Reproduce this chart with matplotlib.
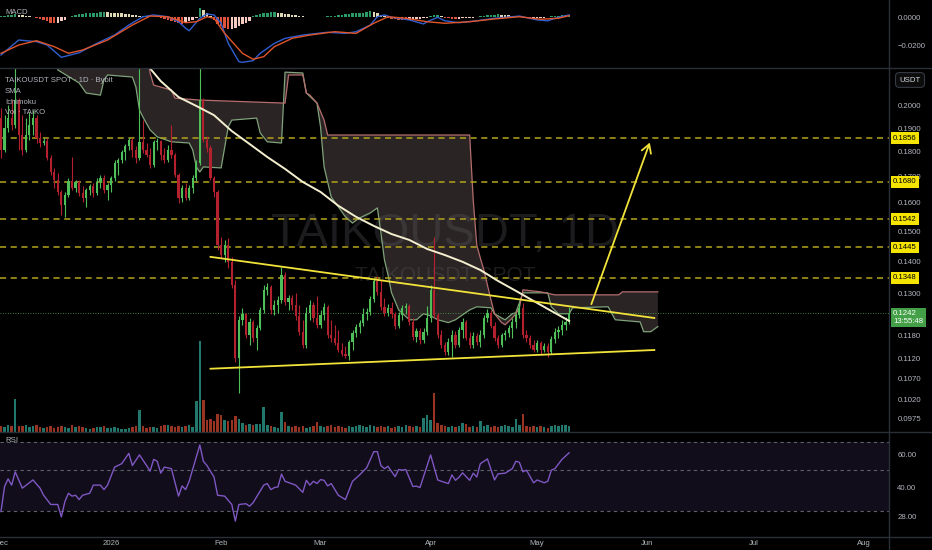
import numpy as np
import pandas as pd
import matplotlib
matplotlib.use('Agg')
import matplotlib.pyplot as plt
import matplotlib.dates as mdates
from matplotlib.ticker import FixedLocator, FuncFormatter, NullLocator
from matplotlib.lines import Line2D

plt.rcParams['font.family'] = ['Liberation Sans', 'DejaVu Sans']

# DATA - TAIKOUSDT daily candles from 2025-12-01 (day offsets)
start = pd.Timestamp('2025-12-01')

opens = [0.1944, 0.1807, 0.1901, 0.1944, 0.1913, 0.2026, 0.1870, 0.1807, 0.1870, 0.1913,
         0.1944, 0.1857, 0.1836, 0.1845, 0.1774, 0.1718, 0.1687, 0.1641, 0.1593, 0.1630,
         0.1683, 0.1656, 0.1679, 0.1637, 0.1618, 0.1648, 0.1664, 0.1637, 0.1679, 0.1695,
         0.1648, 0.1668, 0.1695, 0.1754, 0.1766, 0.1799, 0.1824, 0.1849, 0.1807, 0.1774,
         0.1841, 0.1807, 0.1786, 0.1746, 0.1841, 0.1845, 0.1786, 0.1766, 0.1807, 0.1786,
         0.1706, 0.1618, 0.1656, 0.1618, 0.1656, 0.1695, 0.1754, 0.2026, 0.1849, 0.1815,
         0.1695, 0.1641, 0.1453, 0.1420, 0.1453, 0.1398, 0.1326, 0.1121, 0.1224, 0.1241,
         0.1182, 0.1218, 0.1174, 0.1202, 0.1252, 0.1311, 0.1320, 0.1252, 0.1266, 0.1281,
         0.1357, 0.1275, 0.1287, 0.1266, 0.1235, 0.1191, 0.1155, 0.1244, 0.1266, 0.1229,
         0.1210, 0.1238, 0.1261, 0.1182, 0.1174, 0.1160, 0.1142, 0.1132, 0.1126, 0.1163,
         0.1188, 0.1205, 0.1216, 0.1241, 0.1247, 0.1284, 0.1338, 0.1305, 0.1261, 0.1244,
         0.1258, 0.1241, 0.1207, 0.1238, 0.1258, 0.1264, 0.1218, 0.1177, 0.1193, 0.1169,
         0.1191, 0.1229, 0.1311, 0.1238, 0.1182, 0.1155, 0.1137, 0.1163, 0.1182, 0.1155,
         0.1196, 0.1218, 0.1174, 0.1155, 0.1180, 0.1163, 0.1182, 0.1229, 0.1244, 0.1207,
         0.1174, 0.1155, 0.1182, 0.1188, 0.1202, 0.1218, 0.1238, 0.1258, 0.1182, 0.1174,
         0.1155, 0.1142, 0.1160, 0.1142, 0.1152, 0.1137, 0.1171, 0.1191, 0.1196, 0.1210,
         0.1218]
highs = [0.1989, 0.1957, 0.2003, 0.2026, 0.2221, 0.2035, 0.1957, 0.1944, 0.1971, 0.1980,
         0.1957, 0.1883, 0.1857, 0.1857, 0.1786, 0.1734, 0.1714, 0.1648, 0.1641, 0.1695,
         0.1778, 0.1687, 0.1687, 0.1664, 0.1656, 0.1672, 0.1675, 0.1695, 0.1706, 0.1706,
         0.1675, 0.1702, 0.1766, 0.1774, 0.1807, 0.1832, 0.1857, 0.1857, 0.1824, 0.2247,
         0.1935, 0.1836, 0.1815, 0.1849, 0.1857, 0.1849, 0.1815, 0.1828, 0.1913, 0.1795,
         0.1714, 0.1668, 0.1675, 0.1668, 0.1706, 0.1766, 0.2300, 0.2035, 0.1866, 0.1828,
         0.1702, 0.1648, 0.1480, 0.1470, 0.1477, 0.1414, 0.1341, 0.1235, 0.1258, 0.1244,
         0.1229, 0.1224, 0.1210, 0.1261, 0.1326, 0.1332, 0.1326, 0.1281, 0.1293, 0.1382,
         0.1366, 0.1296, 0.1296, 0.1302, 0.1266, 0.1224, 0.1261, 0.1281, 0.1275, 0.1293,
         0.1252, 0.1272, 0.1266, 0.1224, 0.1210, 0.1196, 0.1160, 0.1152, 0.1169, 0.1196,
         0.1213, 0.1224, 0.1258, 0.1258, 0.1293, 0.1347, 0.1354, 0.1341, 0.1287, 0.1269,
         0.1275, 0.1247, 0.1247, 0.1266, 0.1272, 0.1269, 0.1229, 0.1202, 0.1202, 0.1202,
         0.1264, 0.1326, 0.1480, 0.1244, 0.1196, 0.1163, 0.1174, 0.1196, 0.1193, 0.1205,
         0.1229, 0.1224, 0.1191, 0.1191, 0.1188, 0.1196, 0.1238, 0.1255, 0.1252, 0.1218,
         0.1182, 0.1188, 0.1196, 0.1210, 0.1229, 0.1244, 0.1272, 0.1272, 0.1196, 0.1182,
         0.1169, 0.1169, 0.1166, 0.1160, 0.1160, 0.1180, 0.1202, 0.1207, 0.1224, 0.1232,
         0.1261]
lows = [0.1774, 0.1799, 0.1883, 0.1892, 0.1901, 0.1807, 0.1786, 0.1799, 0.1849, 0.1870,
        0.1836, 0.1820, 0.1828, 0.1766, 0.1706, 0.1656, 0.1630, 0.1557, 0.1550, 0.1622,
        0.1648, 0.1641, 0.1626, 0.1604, 0.1586, 0.1630, 0.1622, 0.1630, 0.1656, 0.1637,
        0.1611, 0.1641, 0.1683, 0.1706, 0.1754, 0.1766, 0.1807, 0.1778, 0.1754, 0.1766,
        0.1795, 0.1778, 0.1734, 0.1738, 0.1807, 0.1766, 0.1754, 0.1758, 0.1774, 0.1698,
        0.1600, 0.1604, 0.1611, 0.1611, 0.1637, 0.1683, 0.1746, 0.1841, 0.1799, 0.1687,
        0.1622, 0.1437, 0.1410, 0.1398, 0.1378, 0.1317, 0.1111, 0.1035, 0.1210, 0.1174,
        0.1155, 0.1163, 0.1142, 0.1196, 0.1244, 0.1296, 0.1241, 0.1238, 0.1244, 0.1272,
        0.1266, 0.1252, 0.1252, 0.1224, 0.1182, 0.1147, 0.1147, 0.1224, 0.1218, 0.1202,
        0.1202, 0.1224, 0.1174, 0.1163, 0.1155, 0.1137, 0.1126, 0.1121, 0.1116, 0.1142,
        0.1177, 0.1188, 0.1207, 0.1224, 0.1238, 0.1275, 0.1296, 0.1252, 0.1235, 0.1235,
        0.1229, 0.1199, 0.1202, 0.1224, 0.1241, 0.1210, 0.1169, 0.1163, 0.1158, 0.1160,
        0.1182, 0.1218, 0.1229, 0.1174, 0.1147, 0.1129, 0.1129, 0.1124, 0.1147, 0.1150,
        0.1174, 0.1169, 0.1147, 0.1147, 0.1155, 0.1150, 0.1174, 0.1218, 0.1202, 0.1166,
        0.1147, 0.1150, 0.1169, 0.1177, 0.1174, 0.1202, 0.1229, 0.1174, 0.1163, 0.1147,
        0.1137, 0.1137, 0.1129, 0.1137, 0.1124, 0.1132, 0.1160, 0.1174, 0.1182, 0.1196,
        0.1213]
closes = [0.1807, 0.1901, 0.1944, 0.1913, 0.2026, 0.1870, 0.1807, 0.1870, 0.1913, 0.1944,
          0.1857, 0.1836, 0.1845, 0.1774, 0.1718, 0.1687, 0.1641, 0.1593, 0.1630, 0.1683,
          0.1656, 0.1679, 0.1637, 0.1618, 0.1648, 0.1664, 0.1637, 0.1679, 0.1695, 0.1648,
          0.1668, 0.1695, 0.1754, 0.1766, 0.1799, 0.1824, 0.1849, 0.1807, 0.1774, 0.1841,
          0.1807, 0.1786, 0.1746, 0.1841, 0.1845, 0.1786, 0.1766, 0.1807, 0.1786, 0.1706,
          0.1618, 0.1656, 0.1618, 0.1656, 0.1695, 0.1754, 0.2026, 0.1849, 0.1815, 0.1695,
          0.1641, 0.1453, 0.1420, 0.1453, 0.1398, 0.1326, 0.1121, 0.1224, 0.1241, 0.1182,
          0.1218, 0.1174, 0.1202, 0.1252, 0.1311, 0.1320, 0.1252, 0.1266, 0.1281, 0.1357,
          0.1275, 0.1287, 0.1266, 0.1235, 0.1191, 0.1155, 0.1244, 0.1266, 0.1229, 0.1210,
          0.1238, 0.1261, 0.1182, 0.1174, 0.1160, 0.1142, 0.1132, 0.1126, 0.1163, 0.1188,
          0.1205, 0.1216, 0.1241, 0.1247, 0.1284, 0.1338, 0.1305, 0.1261, 0.1244, 0.1258,
          0.1241, 0.1207, 0.1238, 0.1258, 0.1264, 0.1218, 0.1177, 0.1193, 0.1169, 0.1191,
          0.1229, 0.1311, 0.1238, 0.1182, 0.1155, 0.1137, 0.1163, 0.1182, 0.1155, 0.1196,
          0.1218, 0.1174, 0.1155, 0.1180, 0.1163, 0.1182, 0.1229, 0.1244, 0.1207, 0.1174,
          0.1155, 0.1182, 0.1188, 0.1202, 0.1218, 0.1238, 0.1258, 0.1182, 0.1174, 0.1155,
          0.1142, 0.1160, 0.1142, 0.1152, 0.1137, 0.1171, 0.1191, 0.1196, 0.1210, 0.1218,
          0.1242]
# volume, thousand TAIKO
volume = [6, 5, 7, 6, 33, 6, 6, 7, 5, 6, 7, 5, 4,
          5, 6, 4, 5, 6, 5, 4, 7, 5, 6, 5, 4, 3, 4, 5, 5, 6, 4,
          4, 5, 4, 3, 3, 4, 5, 6, 22, 6, 4, 5, 5, 4, 6, 7, 7,
          6, 5, 6, 5, 6, 7, 5,
          31, 91, 32, 12, 13, 11, 18, 17, 12, 11, 12, 16, 13, 9, 7, 8, 7, 8, 8, 25, 7, 6, 5, 4, 20, 10,
          6, 5, 6, 5, 6, 4, 5, 6, 10,
          6, 5, 6, 7, 5, 6, 5, 4, 6, 5, 6, 7, 6, 5, 7, 6, 5, 6, 5, 6, 4, 5, 6, 5, 7, 6, 5, 6, 5,
          14, 17, 12, 39, 9, 7,
          6, 5, 6, 5, 6, 9, 8, 5, 6, 5, 11,
          6, 7, 5, 6, 5, 6, 7, 6, 5, 13, 7, 18,
          6, 5, 6, 5, 6, 5, 4, 6, 7, 6, 7, 7, 6]

# SMA
sma_days = [40, 45, 50, 55, 60, 65, 70, 75, 80, 85, 90, 95, 100, 105, 110, 115, 120, 125, 130, 135, 140, 145, 150, 155, 160]
sma_vals = [0.2221, 0.2116, 0.2040, 0.1999, 0.1957, 0.1887, 0.1832, 0.1778, 0.1730, 0.1679, 0.1641, 0.1590, 0.1550,
            0.1518, 0.1490, 0.1470, 0.1440, 0.1420, 0.1398, 0.1372, 0.1338, 0.1308, 0.1278, 0.1249, 0.1221]

# Ichimoku cloud spans (extend 25 days past last candle)
span_a_days = [15, 16, 22, 24, 28, 29, 30, 37, 38, 39, 40, 42, 44, 48, 53, 54, 55, 56, 57, 62,
               64, 65, 72, 73, 75, 79, 80, 85, 86, 89, 90, 91, 93, 95, 97, 99, 101, 104, 106, 107,
               108, 109, 110, 112, 115, 117, 119, 121, 123, 126, 128, 132, 134, 138, 139, 141, 142, 144, 145, 147,
               154, 155, 157, 160, 161, 171, 173, 180, 181, 183, 185]
span_a = [0.2273, 0.2171, 0.2107, 0.2059, 0.2049, 0.2121, 0.2146, 0.2136, 0.2087, 0.1980,
          0.1948, 0.1892, 0.1862, 0.1841, 0.1836, 0.1807, 0.1738, 0.1718, 0.1738, 0.1734,
          0.1905, 0.1935, 0.1944, 0.1879, 0.1841, 0.1836, 0.2160, 0.2156, 0.2059, 0.2012,
          0.1905, 0.1738, 0.1622, 0.1586, 0.1550, 0.1528, 0.1546, 0.1564, 0.1582, 0.1494,
          0.1404, 0.1357, 0.1302, 0.1252, 0.1224, 0.1224, 0.1241, 0.1235, 0.1224, 0.1216,
          0.1224, 0.1252, 0.1261, 0.1258, 0.1241, 0.1229, 0.1224, 0.1241, 0.1244, 0.1302,
          0.1302, 0.1261, 0.1241, 0.1241, 0.1258, 0.1261, 0.1224, 0.1218, 0.1191, 0.1191,
          0.1205]
span_b_days = [15, 41, 42, 43, 48, 49, 56, 80, 81, 85, 86, 87, 89, 91, 92, 132, 133, 134, 135, 136,
               138, 139, 141, 142, 144, 145, 146, 147, 152, 156, 174, 175, 185]
span_b = [0.2273, 0.2273, 0.2156, 0.2097, 0.2073, 0.2035, 0.2026, 0.2012, 0.2146, 0.2146,
          0.2059, 0.2049, 0.2012, 0.1935, 0.1870, 0.1870, 0.1611, 0.1453, 0.1410, 0.1372,
          0.1281, 0.1241, 0.1216, 0.1210, 0.1229, 0.1241, 0.1258, 0.1311, 0.1305, 0.1296,
          0.1296, 0.1305, 0.1305]

# drawn levels and pattern lines
levels = [0.1856, 0.1680, 0.1542, 0.1445, 0.1348]
last_price = 0.1242
upper_line = ([59, 184], [0.1414, 0.1229])
lower_line = ([59, 184], [0.1094, 0.1142])
target_arrow = ([166, 183], [0.1261, 0.1849])

# MACD
macd_days = [0, 5, 10, 13, 17, 22, 27, 32, 36, 40, 43, 47, 50, 52, 53, 56, 58, 60, 62, 64,
             67, 68, 71, 73, 77, 80, 85, 92, 97, 100, 104, 106, 108, 110, 115, 119, 120, 123, 125, 129,
             134, 139, 146, 151, 154, 157, 160]
macd_vals = [-0.0272, -0.0164, -0.0176, -0.0200, -0.0289, -0.0256, -0.0188, -0.0128, -0.0056, 0.0004,
             0.0017, 0.0004, -0.0032, -0.0079, -0.0097, -0.0007, 0.0024, 0.0017, -0.0043, -0.0188,
             -0.0320, -0.0325, -0.0313, -0.0260, -0.0188, -0.0152, -0.0128, -0.0108, -0.0116, -0.0104,
             -0.0056, 0.0004, 0.0017, 0.0000, -0.0019, -0.0048, -0.0032, 0.0000, -0.0025, -0.0039,
             -0.0025, -0.0007, 0.0009, -0.0019, -0.0025, 0.0000, 0.0017]
signal_days = [0, 5, 10, 15, 19, 23, 30, 37, 42, 47, 52, 55, 58, 60, 63, 68, 71, 74, 77, 82,
               87, 94, 100, 105, 109, 114, 120, 125, 132, 139, 146, 152, 157, 160]
signal_vals = [-0.0260, -0.0200, -0.0169, -0.0212, -0.0260, -0.0236, -0.0164, -0.0056, 0.0009, 0.0004,
               -0.0039, -0.0032, 0.0004, -0.0007, -0.0116, -0.0260, -0.0303, -0.0284, -0.0212, -0.0152,
               -0.0128, -0.0104, -0.0116, -0.0043, 0.0004, -0.0007, -0.0032, -0.0043, -0.0032, -0.0012,
               0.0004, -0.0014, -0.0007, 0.0012]
# histogram, units of 1e-4
macd_hist_e4 = [8, 12, 18, 20, 22, 18, 14, 10, 6, 3,
                -5, -12, -20, -30, -38, -43, -38, -28, -16,
                5, 12, 18, 22, 26, 28, 30, 32, 33, 35, 36, 35, 34, 32, 30, 28, 25, 22, 18, 14,
                10, 8, 6, 4, 2, 1,
                -5, -10, -18, -25, -32, -40, -45, -40, -30, -18, -6,
                70, 50, 30, 12,
                -20, -45, -65, -80, -88, -85, -78, -65, -50, -40, -30,
                8, 15, 22, 28, 32, 35, 36, 34, 30, 26, 22, 18, 14, 10,
                6, 4, 3, 2, 2, 3, 4, 6, 8, 10,
                14, 18, 22, 26, 28, 30, 32, 34, 40, 43, 38, 30, 20, 12,
                -5, -10, -15, -18, -20, -22, -20, -18, -15, -12, -8, -4,
                8, 14, 18, 10,
                -4, -8, -10, -12, -10, -8, -6, -4, -2,
                3, 6, 10, 14, 18, 20, 22, 20, 18, 15, 12, 10, 8,
                -3, -6, -8, -8, -6, -4, -2,
                3, 6, 9, 12, 15, 18, 20]

# RSI
rsi_days = [0, 1, 2, 3, 4, 6, 9, 11, 12, 14, 16, 17, 18, 19, 20, 21, 22, 23, 25, 26,
            28, 29, 30, 32, 34, 36, 37, 39, 41, 42, 43, 44, 45, 46, 48, 50, 51, 52, 53, 56,
            57, 58, 60, 61, 63, 65, 66, 67, 69, 70, 71, 74, 75, 76, 77, 78, 79, 80, 83, 85,
            86, 87, 88, 89, 90, 91, 92, 93, 95, 97, 99, 101, 103, 105, 106, 107, 108, 109, 111, 112,
            113, 114, 116, 117, 118, 121, 123, 124, 126, 127, 128, 129, 130, 132, 133, 134, 135, 137, 139, 140,
            142, 144, 145, 146, 147, 148, 150, 151, 153, 154, 155, 156, 158, 160]
rsi_vals = [29.9, 40.6, 44.6, 41.3, 48.6, 39.8, 44.0, 39.8, 36.5, 32.6, 32.6, 28.0, 33.8, 37.4, 36.1, 36.5, 34.6, 36.5, 37.4, 41.3,
            41.3, 39.1, 41.3, 51.5, 53.7, 60.9, 52.5, 59.8, 52.5, 49.0, 56.6, 55.3, 47.8, 51.5, 50.5, 36.1, 40.9, 39.1, 43.3, 67.5,
            55.3, 52.5, 45.6, 36.5, 36.1, 32.6, 26.6, 32.6, 32.9, 31.9, 33.3, 41.3, 42.1, 39.1, 40.1, 40.4, 47.3, 43.3, 41.3, 37.8,
            43.8, 41.3, 43.3, 42.1, 44.2, 43.8, 40.9, 42.1, 36.5, 34.6, 43.3, 46.8, 51.1, 62.2, 62.2, 52.5, 50.5, 52.0, 45.8, 50.0,
            49.6, 50.0, 40.6, 40.8, 40.1, 59.8, 44.0, 43.3, 42.1, 46.8, 43.8, 45.5, 48.0, 43.8, 47.8, 45.6, 53.7, 56.9, 44.0, 47.4,
            47.8, 50.5, 55.3, 54.6, 48.6, 49.6, 42.5, 44.0, 42.5, 43.3, 49.6, 50.5, 56.6, 61.3]

month_ticks = ['2025-12-01', '2026-01-01', '2026-02-01', '2026-03-01', '2026-04-01',
               '2026-05-01', '2026-06-01', '2026-07-01', '2026-08-01']
month_labels = ['Dec', '2026', 'Feb', 'Mar', 'Apr', 'May', 'Jun', 'Jul', 'Aug']

# ---------------------------------------------------------------
base = mdates.date2num(start)
o = np.array(opens); h = np.array(highs); l = np.array(lows); c = np.array(closes)
x = base + np.arange(len(c))

TXT = '#b2b5be'
GRID = '#2a2e39'
UP, DOWN = '#4fbf5a', '#b3202e'
W, H = 932, 550

def rect(x0, y0, x1, y1):
    return [x0 / W, 1 - y1 / H, (x1 - x0) / W, (y1 - y0) / H]

fig = plt.figure(figsize=(9.32, 5.5), dpi=100, facecolor='black')
ax_macd = fig.add_axes(rect(0, 0, 889, 68))
ax_vol = fig.add_axes(rect(0, 68, 889, 432), sharex=ax_macd)
ax = fig.add_axes(rect(0, 68, 889, 432), sharex=ax_macd)
ax_rsi = fig.add_axes(rect(0, 432, 889, 537), sharex=ax_macd)

for a in (ax_macd, ax_vol, ax, ax_rsi):
    a.set_facecolor('black')
    for s in a.spines.values():
        s.set_visible(False)
    a.tick_params(axis='x', bottom=False, labelbottom=False)
    a.yaxis.tick_right()
    a.tick_params(axis='y', length=0, pad=6, labelsize=5.6, labelcolor=TXT)
ax.set_facecolor('none')
ax_vol.set_axis_off()
ax.set_xlim(base - 0.28, base + 250.1)

# volume
up = c >= o
ax_vol.bar(x, volume, width=0.7, color=np.where(up, '#22786c', '#993322'), lw=0)
ax_vol.set_ylim(0, 364)

# main price
ax.set_yscale('log')
ax.set_ylim(0.09462, 0.21807)
ax.yaxis.set_major_locator(FixedLocator([0.2, 0.19, 0.18, 0.17, 0.16, 0.15, 0.14, 0.13, 0.118, 0.112, 0.107, 0.102, 0.0975]))
ax.yaxis.set_minor_locator(NullLocator())
ax.yaxis.set_major_formatter(FuncFormatter(lambda v, _: f'{v:.4f}'))

# watermark sits over the cloud, under everything else
ax.text(0.5006, 0.544, 'TAIKOUSDT, 1D', transform=ax.transAxes, ha='center', va='center',
        fontsize=34, color='#5a5a60', alpha=0.32, zorder=1.5)
ax.text(0.5006, 0.4286, 'TAIKOUSDT SPOT', transform=ax.transAxes, ha='center', va='center',
        fontsize=15, color='#5a5a60', alpha=0.32, zorder=1.5)

xa = base + np.array(span_a_days); xb = base + np.array(span_b_days)
ax.fill(np.concatenate([xa, xb[::-1]]), np.concatenate([span_a, span_b[::-1]]),
        color='#2b2424', lw=0, zorder=1)
ax.plot(xa, span_a, color='#7fa37a', lw=0.9, zorder=2)
ax.plot(xb, span_b, color='#b56d6d', lw=0.9, zorder=2)

for lv in levels:
    ax.axhline(lv, color='#b5a51e', lw=1.1, ls=(0, (4, 3)), zorder=2)
    ax.annotate(f'{lv:.4f}', xy=(1, lv), xycoords=('axes fraction', 'data'), xytext=(3, 0),
                textcoords='offset points', ha='left', va='center', fontsize=5.6, color='black',
                bbox=dict(boxstyle='square,pad=0.3', fc='#f5e400', ec='none'),
                annotation_clip=False, zorder=10)
ax.axhline(last_price, color='#4caf50', lw=0.6, ls=(0, (1, 2)), zorder=2)
ax.annotate(f'{last_price:.4f}\n13:55:48', xy=(1, last_price), xycoords=('axes fraction', 'data'),
            xytext=(3, -3), textcoords='offset points', ha='left', va='center', fontsize=5.6,
            color='white', linespacing=1.2,
            bbox=dict(boxstyle='square,pad=0.3', fc='#43a047', ec='none'),
            annotation_clip=False, zorder=10)

cols = np.where(up, UP, DOWN)
ax.vlines(x, l, h, colors=cols, lw=0.8, zorder=3)
ax.bar(x, np.maximum(np.abs(c - o), 0.0002), bottom=np.minimum(o, c), width=0.62, color=cols, lw=0, zorder=3)

ax.plot(base + np.array(sma_days), sma_vals, color='#f3efcf', lw=1.4, zorder=4)

ax.plot(base + np.array(upper_line[0]), upper_line[1], color='#f2e33a', lw=1.3, zorder=5)
ax.plot(base + np.array(lower_line[0]), lower_line[1], color='#f2e33a', lw=1.3, zorder=5)
ax.annotate('', xy=(base + target_arrow[0][1], target_arrow[1][1]),
            xytext=(base + target_arrow[0][0], target_arrow[1][0]),
            arrowprops=dict(arrowstyle='->,head_length=0.6,head_width=0.35', color='#f2e33a', lw=1.3),
            zorder=5)

# MACD
hist = np.array(macd_hist_e4) * 1e-4
prev = np.concatenate([[hist[0]], hist[:-1]])
hcols = np.where(hist >= 0, np.where(hist >= prev, '#2b9a67', '#dcd9b4'),
                 np.where(hist < prev, '#e0533b', '#f3c9c0'))
ax_macd.bar(x, hist, width=0.7, color=hcols, lw=0)
ax_macd.plot(base + np.array(macd_days), macd_vals, color='#2f5fd0', lw=1.0)
ax_macd.plot(base + np.array(signal_days), signal_vals, color='#e0552a', lw=1.0)
ax_macd.set_ylim(-0.0366, 0.01249)
ax_macd.yaxis.set_major_locator(FixedLocator([0.0, -0.02]))
ax_macd.yaxis.set_major_formatter(FuncFormatter(lambda v, _: f'{v:.4f}'.replace('-', '\u2212') if v < 0 else f'{v:.4f}'))

# RSI
ax_rsi.set_yscale('log')
ax_rsi.set_ylim(21.9, 79.1)
ax_rsi.axhspan(30, 70, color='#110d1a', lw=0, zorder=0)
for lv in (70, 50, 30):
    ax_rsi.axhline(lv, color='#5d606b', lw=0.8, ls=(0, (3, 3)), zorder=1)
ax_rsi.plot(base + np.array(rsi_days), rsi_vals, color='#7e57c2', lw=1.0, zorder=2)
ax_rsi.yaxis.set_major_locator(FixedLocator([60, 40, 28]))
ax_rsi.yaxis.set_minor_locator(NullLocator())
ax_rsi.yaxis.set_major_formatter(FuncFormatter(lambda v, _: f'{v:.2f}'))
ax_rsi.set_xticks(mdates.date2num(pd.to_datetime(month_ticks)))
ax_rsi.set_xticklabels(month_labels)
ax_rsi.tick_params(axis='x', labelbottom=True, length=0, pad=2, labelsize=5.6, labelcolor=TXT)

# panel separators and legend texts
for yy in (68, 432, 537):
    fig.add_artist(Line2D([0, 1], [1 - yy / H] * 2, color=GRID, lw=1))
fig.add_artist(Line2D([889 / W] * 2, [0, 1], color=GRID, lw=1))

fig.text(5 / W, 1 - 12 / H, 'MACD', va='center', fontsize=5.6, color=TXT)
for i, s in enumerate(['TAIKOUSDT SPOT \u00b7 1D \u00b7 Bybit', 'SMA', 'Ichimoku', 'Vol \u00b7 TAIKO']):
    fig.text(5 / W, 1 - (80 + 11 * i) / H, s, va='center', fontsize=5.6, color=TXT)
fig.text(5 / W, 1 - 441 / H, 'RSI', va='center', fontsize=5.6, color=TXT)
fig.text(910 / W, 1 - 80 / H, 'USDT', ha='center', va='center', fontsize=5.6, color='#d1d4dc',
         bbox=dict(boxstyle='round,pad=0.5', fc='#0c0c0c', ec='#363a45', lw=0.8))

fig.savefig('out.png', dpi=100, facecolor='black')
